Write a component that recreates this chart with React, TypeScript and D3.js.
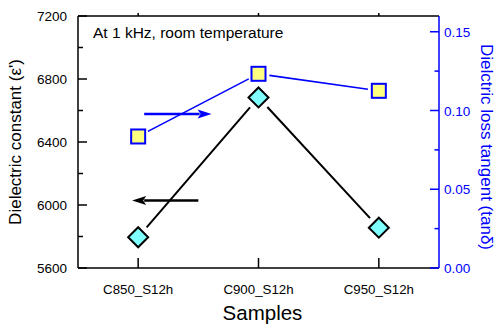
import React from 'react';
import * as d3 from 'd3';

const width = 495;
const height = 325;
const margin = { top: 16, right: 56, bottom: 57, left: 78 };

const samples = ['C850_S12h', 'C900_S12h', 'C950_S12h'];
const permittivity = [5795, 6683, 5856];
const lossTangent = [0.0835, 0.1233, 0.1125];

const leftTicks = [5600, 6000, 6400, 6800, 7200];
const leftMinor = [5800, 6200, 6600, 7000];
const rightTicks = [0, 0.05, 0.1, 0.15];
const rightMinor = [0.025, 0.075, 0.125];

// arrows in (sample index, value) units
const blueArrow = { x0: 0.05, x1: 0.61, y: 0.0977 };
const blackArrow = { x0: 0.5, x1: -0.05, y: 6028 };

const font = '"Liberation Sans", Arial, sans-serif';
const blue = '#0000ff';

// shorten each segment so lines stop short of the markers
function gapSegments(pts: [number, number][], gap: number) {
  const segs: string[] = [];
  for (let i = 0; i < pts.length - 1; i++) {
    const [ax, ay] = pts[i];
    const [bx, by] = pts[i + 1];
    const len = Math.hypot(bx - ax, by - ay);
    const ux = (bx - ax) / len;
    const uy = (by - ay) / len;
    segs.push(`M${ax + ux * gap},${ay + uy * gap}L${bx - ux * gap},${by - uy * gap}`);
  }
  return segs.join('');
}

function Arrow({ x0, x1, y, color }: { x0: number; x1: number; y: number; color: string }) {
  const dir = Math.sign(x1 - x0);
  const headLen = 14;
  const hw = 4.5;
  const base = x1 - dir * headLen;
  return (
    <g>
      <line x1={x0} x2={base + dir * 2} y1={y} y2={y} stroke={color} strokeWidth={2.5} />
      <path d={`M${x1},${y}L${base},${y - hw}L${base + dir * 3},${y}L${base},${y + hw}Z`} fill={color} />
    </g>
  );
}

export default function App() {
  const x0 = margin.left;
  const x1 = width - margin.right;
  const y0 = height - margin.bottom;
  const y1 = margin.top;

  const xScale = d3.scalePoint<string>().domain(samples).range([x0, x1]).padding(0.5);
  const xIdx = d3.scaleLinear().domain([-0.5, 2.5]).range([x0, x1]);
  const yLeft = d3.scaleLinear().domain([5600, 7200]).range([y0, y1]);
  const yRight = d3.scaleLinear().domain([0, 0.16]).range([y0, y1]);

  const pPts: [number, number][] = samples.map((s, i) => [xScale(s)!, yLeft(permittivity[i])]);
  const tPts: [number, number][] = samples.map((s, i) => [xScale(s)!, yRight(lossTangent[i])]);

  const sq = 7;
  const dm = 10;

  return (
    <svg width={width} height={height} style={{ position: 'absolute', left: 0, top: 0, background: '#fff' }} fontFamily={font}>
      {/* frame */}
      <line x1={x0} x2={x1} y1={y1} y2={y1} stroke="#000" strokeWidth={1.5} />
      <line x1={x0} x2={x1} y1={y0} y2={y0} stroke="#000" strokeWidth={1.5} />
      <line x1={x0} x2={x0} y1={y1} y2={y0} stroke="#000" strokeWidth={1.5} />

      {/* left axis */}
      {leftTicks.map(t => (
        <g key={t}>
          <line x1={x0} x2={x0 + 9} y1={yLeft(t)} y2={yLeft(t)} stroke="#000" strokeWidth={1.5} />
          <text x={x0 - 11} y={yLeft(t) + 5} textAnchor="end" fontSize={13.5}>{t}</text>
        </g>
      ))}
      {leftMinor.map(t => (
        <line key={t} x1={x0} x2={x0 + 5} y1={yLeft(t)} y2={yLeft(t)} stroke="#000" strokeWidth={1.5} />
      ))}

      {/* bottom / top ticks */}
      {samples.map(s => (
        <g key={s}>
          <line x1={xScale(s)} x2={xScale(s)} y1={y0} y2={y0 - 10} stroke="#000" strokeWidth={1.5} />
          <line x1={xScale(s)} x2={xScale(s)} y1={y1} y2={y1 - 3} stroke="#000" strokeWidth={1.5} />
          <text x={xScale(s)} y={293.5} textAnchor="middle" fontSize={13.3}>{s}</text>
        </g>
      ))}

      {/* right axis */}
      <line x1={x1} x2={x1} y1={y1} y2={y0} stroke={blue} strokeWidth={1.5} />
      {rightTicks.map(t => (
        <g key={t}>
          <line x1={x1} x2={x1 - 9} y1={yRight(t)} y2={yRight(t)} stroke={blue} strokeWidth={1.5} />
          <text x={x1 + 5} y={yRight(t) + 5} fontSize={13.5} fill={blue}>{t.toFixed(2)}</text>
        </g>
      ))}
      {rightMinor.map(t => (
        <line key={t} x1={x1} x2={x1 - 4.5} y1={yRight(t)} y2={yRight(t)} stroke={blue} strokeWidth={1.5} />
      ))}

      {/* titles */}
      <text x={(x0 + x1) / 2 + 4} y={319.5} textAnchor="middle" fontSize={20.5}>Samples</text>
      <text transform={`translate(21,${(y0 + y1) / 2}) rotate(-90)`} textAnchor="middle" fontSize={17}>
        Dielectric constant (ε')
      </text>
      <text transform={`translate(481,${(y0 + y1) / 2 + 5}) rotate(90)`} textAnchor="middle" fontSize={17} fill={blue}>
        Dielctric loss tangent (tanδ)
      </text>
      <text x={93} y={38.3} fontSize={15.5}>At 1 kHz, room temperature</text>

      {/* loss tangent series */}
      <path d={gapSegments(tPts, 11)} stroke={blue} strokeWidth={1.6} fill="none" />
      {tPts.map(([px, py], i) => (
        <rect key={i} x={px - sq} y={py - sq} width={sq * 2} height={sq * 2} fill="#ffff80" stroke={blue} strokeWidth={2} />
      ))}

      {/* permittivity series */}
      <path d={gapSegments(pPts, 13)} stroke="#000" strokeWidth={2} fill="none" />
      {pPts.map(([px, py], i) => (
        <path key={i} d={`M${px},${py - dm}L${px + dm},${py}L${px},${py + dm}L${px - dm},${py}Z`} fill="#80ffff" stroke="#000" strokeWidth={2} />
      ))}

      <Arrow x0={xIdx(blueArrow.x0)} x1={xIdx(blueArrow.x1)} y={yRight(blueArrow.y)} color={blue} />
      <Arrow x0={xIdx(blackArrow.x0)} x1={xIdx(blackArrow.x1)} y={yLeft(blackArrow.y)} color="#000" />
    </svg>
  );
}
